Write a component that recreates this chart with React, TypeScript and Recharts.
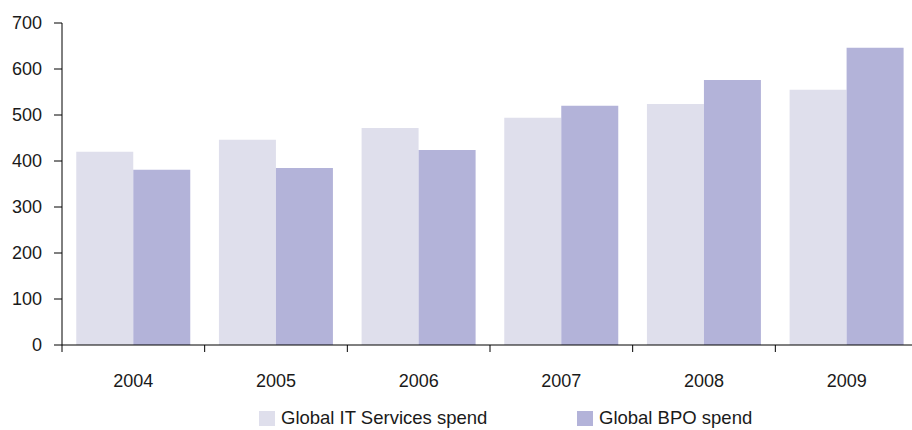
import { BarChart, Bar, XAxis, YAxis, Legend } from "recharts";

const years = ["2004", "2005", "2006", "2007", "2008", "2009"];
const itServices = [420, 446, 472, 494, 524, 555];
const bpo = [381, 385, 424, 520, 576, 646];
const yTicks = [0, 100, 200, 300, 400, 500, 600, 700];

const IT_COLOR = "#dfdfec";
const BPO_COLOR = "#b3b3d9";
const TEXT = "#1a1a1a";
const FONT = "'Liberation Sans', Arial, sans-serif";

const X_TICK_SIZE = 7;
const X_TICK_MARGIN = 22;

const data = years.map((year, i) => ({ year, it: itServices[i], bpo: bpo[i] }));

// year label in the middle of the band, tick mark on the band's left edge
function YearTick(props: any) {
  const { x, y, payload } = props;
  const edge = x - (payload.offset || 0);
  const axisY = y - X_TICK_SIZE - X_TICK_MARGIN;
  return (
    <g>
      <line x1={edge} x2={edge} y1={axisY} y2={axisY + X_TICK_SIZE} stroke="#000" />
      <text x={x} y={y} dy="0.71em" textAnchor="middle" fontSize={18} fill={TEXT}>
        {payload.value}
      </text>
    </g>
  );
}

function ChartLegend() {
  const items = [
    { label: "Global IT Services spend", color: IT_COLOR, width: 318 },
    { label: "Global BPO spend", color: BPO_COLOR, width: 180 },
  ];
  return (
    <div style={{ display: "flex", paddingLeft: 259, fontFamily: FONT, fontSize: 18.5, color: TEXT }}>
      {items.map((it) => (
        <div key={it.label} style={{ display: "flex", alignItems: "center", width: it.width }}>
          <span style={{ display: "inline-block", width: 16, height: 15, background: it.color, marginRight: 6 }} />
          <span style={{ whiteSpace: "nowrap" }}>{it.label}</span>
        </div>
      ))}
    </div>
  );
}

export default function App() {
  return (
    <div style={{ position: "fixed", left: 0, top: 0, width: 912, height: 430, overflow: "hidden", background: "#fff" }}>
      <BarChart
        width={930}
        height={430}
        data={data}
        margin={{ top: 23, right: 12, left: 0, bottom: 23 }}
        barCategoryGap="10%"
        barGap={0}
        style={{ fontFamily: FONT }}
      >
        <XAxis
          dataKey="year"
          stroke="#000"
          tickLine={false}
          tickSize={X_TICK_SIZE}
          tickMargin={X_TICK_MARGIN}
          height={40}
          tick={<YearTick />}
          interval={0}
        />
        <YAxis
          domain={[0, 700]}
          ticks={yTicks}
          width={62}
          tickSize={8}
          tickMargin={12}
          stroke="#000"
          tick={{ fontSize: 18, fill: TEXT }}
        />
        <Legend content={<ChartLegend />} wrapperStyle={{ top: 407, left: 0, width: 912 }} />
        <Bar dataKey="it" name="Global IT Services spend" fill={IT_COLOR} isAnimationActive={false} />
        <Bar dataKey="bpo" name="Global BPO spend" fill={BPO_COLOR} isAnimationActive={false} />
      </BarChart>
    </div>
  );
}
